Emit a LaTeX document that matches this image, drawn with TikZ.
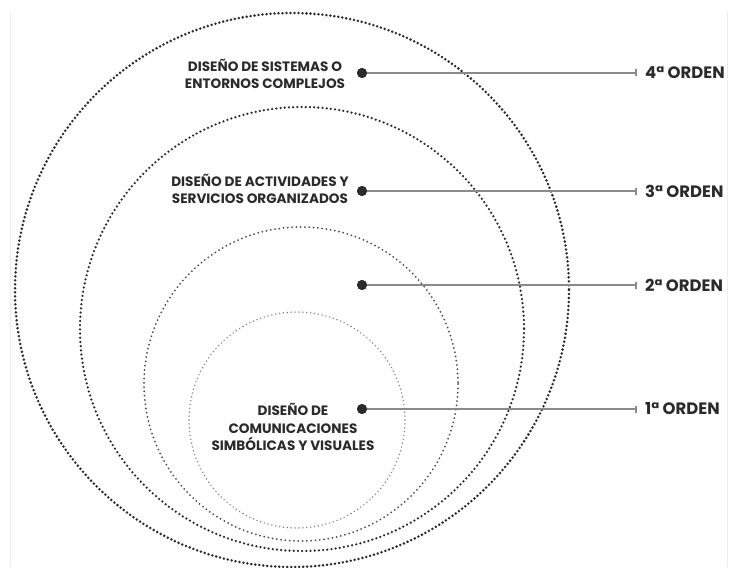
\documentclass[tikz,border=0pt]{standalone}
\usepackage{fontspec}
\setmainfont{Poppins}
\definecolor{ink}{HTML}{2B2B2B}
\definecolor{leadgray}{HTML}{8A8A8A}
\definecolor{framec}{HTML}{ECECF6}
\begin{document}
\begin{tikzpicture}[x=1pt,y=-1pt,
  ring/.style={line cap=round, draw=#1},
  ringA/.style={ring=ink, line width=2.8pt, dash pattern=on 0pt off 4pt},
  ringB/.style={ring=ink, line width=2.5pt, dash pattern=on 0pt off 4.2pt},
  ringC/.style={ring=ink!85, line width=2.0pt, dash pattern=on 0pt off 4.3pt},
  ringD/.style={ring=ink!60, line width=1.6pt, dash pattern=on 0pt off 3.9pt},
  bullet/.style={circle, fill=ink, draw=none, minimum size=10pt, inner sep=0pt},
  leader/.style={draw=leadgray, line width=1.4pt},
  ordlabel/.style={anchor=west, text=ink, inner sep=0pt, font=\fontsize{16.5}{18}\selectfont\bfseries},
  desc/.style={text=ink, inner sep=0pt, align=center, font=\fontsize{13.6}{17.5}\selectfont\bfseries}
]
\useasboundingbox (0,0) rectangle (730,567);
\fill[white] (0,0) rectangle (730,567);
\draw[framec, line width=1pt] (10,12) -- (10,567);
\draw[framec, line width=1pt] (727,12) -- (727,567);

% rings
\draw[ringA] (292,290) circle[radius=277];
\draw[ringB] (302,329) circle[radius=222];
\draw[ringC] (301,384) circle[radius=157];
\draw[ringD] (297,420) circle[radius=108];

% bullets and leaders
\node[bullet] (d4) at (362,73) {};
\node[bullet] (d3) at (362,191) {};
\node[bullet] (d2) at (362,285) {};
\node[bullet] (d1) at (362,409) {};
\coordinate (e4) at (636,73);
\coordinate (e3) at (636,191);
\coordinate (e2) at (636,285);
\coordinate (e1) at (636,409);
\foreach \k in {1,2,3,4}{
  \draw[leader] (d\k.center) -- (e\k);
  \draw[leader] ([yshift=-3.5pt]e\k) -- ([yshift=3.5pt]e\k);
}
\node[bullet] at (d4) {};
\node[bullet] at (d3) {};
\node[bullet] at (d2) {};
\node[bullet] at (d1) {};

% labels
\node[ordlabel] (l4) at (645,73) {4ª ORDEN};
\node[ordlabel] (l3) at (645,191) {3ª ORDEN};
\node[ordlabel] (l2) at (645,285) {2ª ORDEN};
\node[ordlabel] (l1) at (645,409) {1ª ORDEN};

% descriptions
\node[desc] (t4) at (265,74) {DISEÑO DE SISTEMAS O\\ENTORNOS COMPLEJOS};
\node[desc] (t3) at (260,189) {DISEÑO DE ACTIVIDADES Y\\SERVICIOS ORGANIZADOS};
\node[desc] (t1) at (293,427) {DISEÑO DE\\COMUNICACIONES\\SIMBÓLICAS Y VISUALES};
\end{tikzpicture}
\end{document}
